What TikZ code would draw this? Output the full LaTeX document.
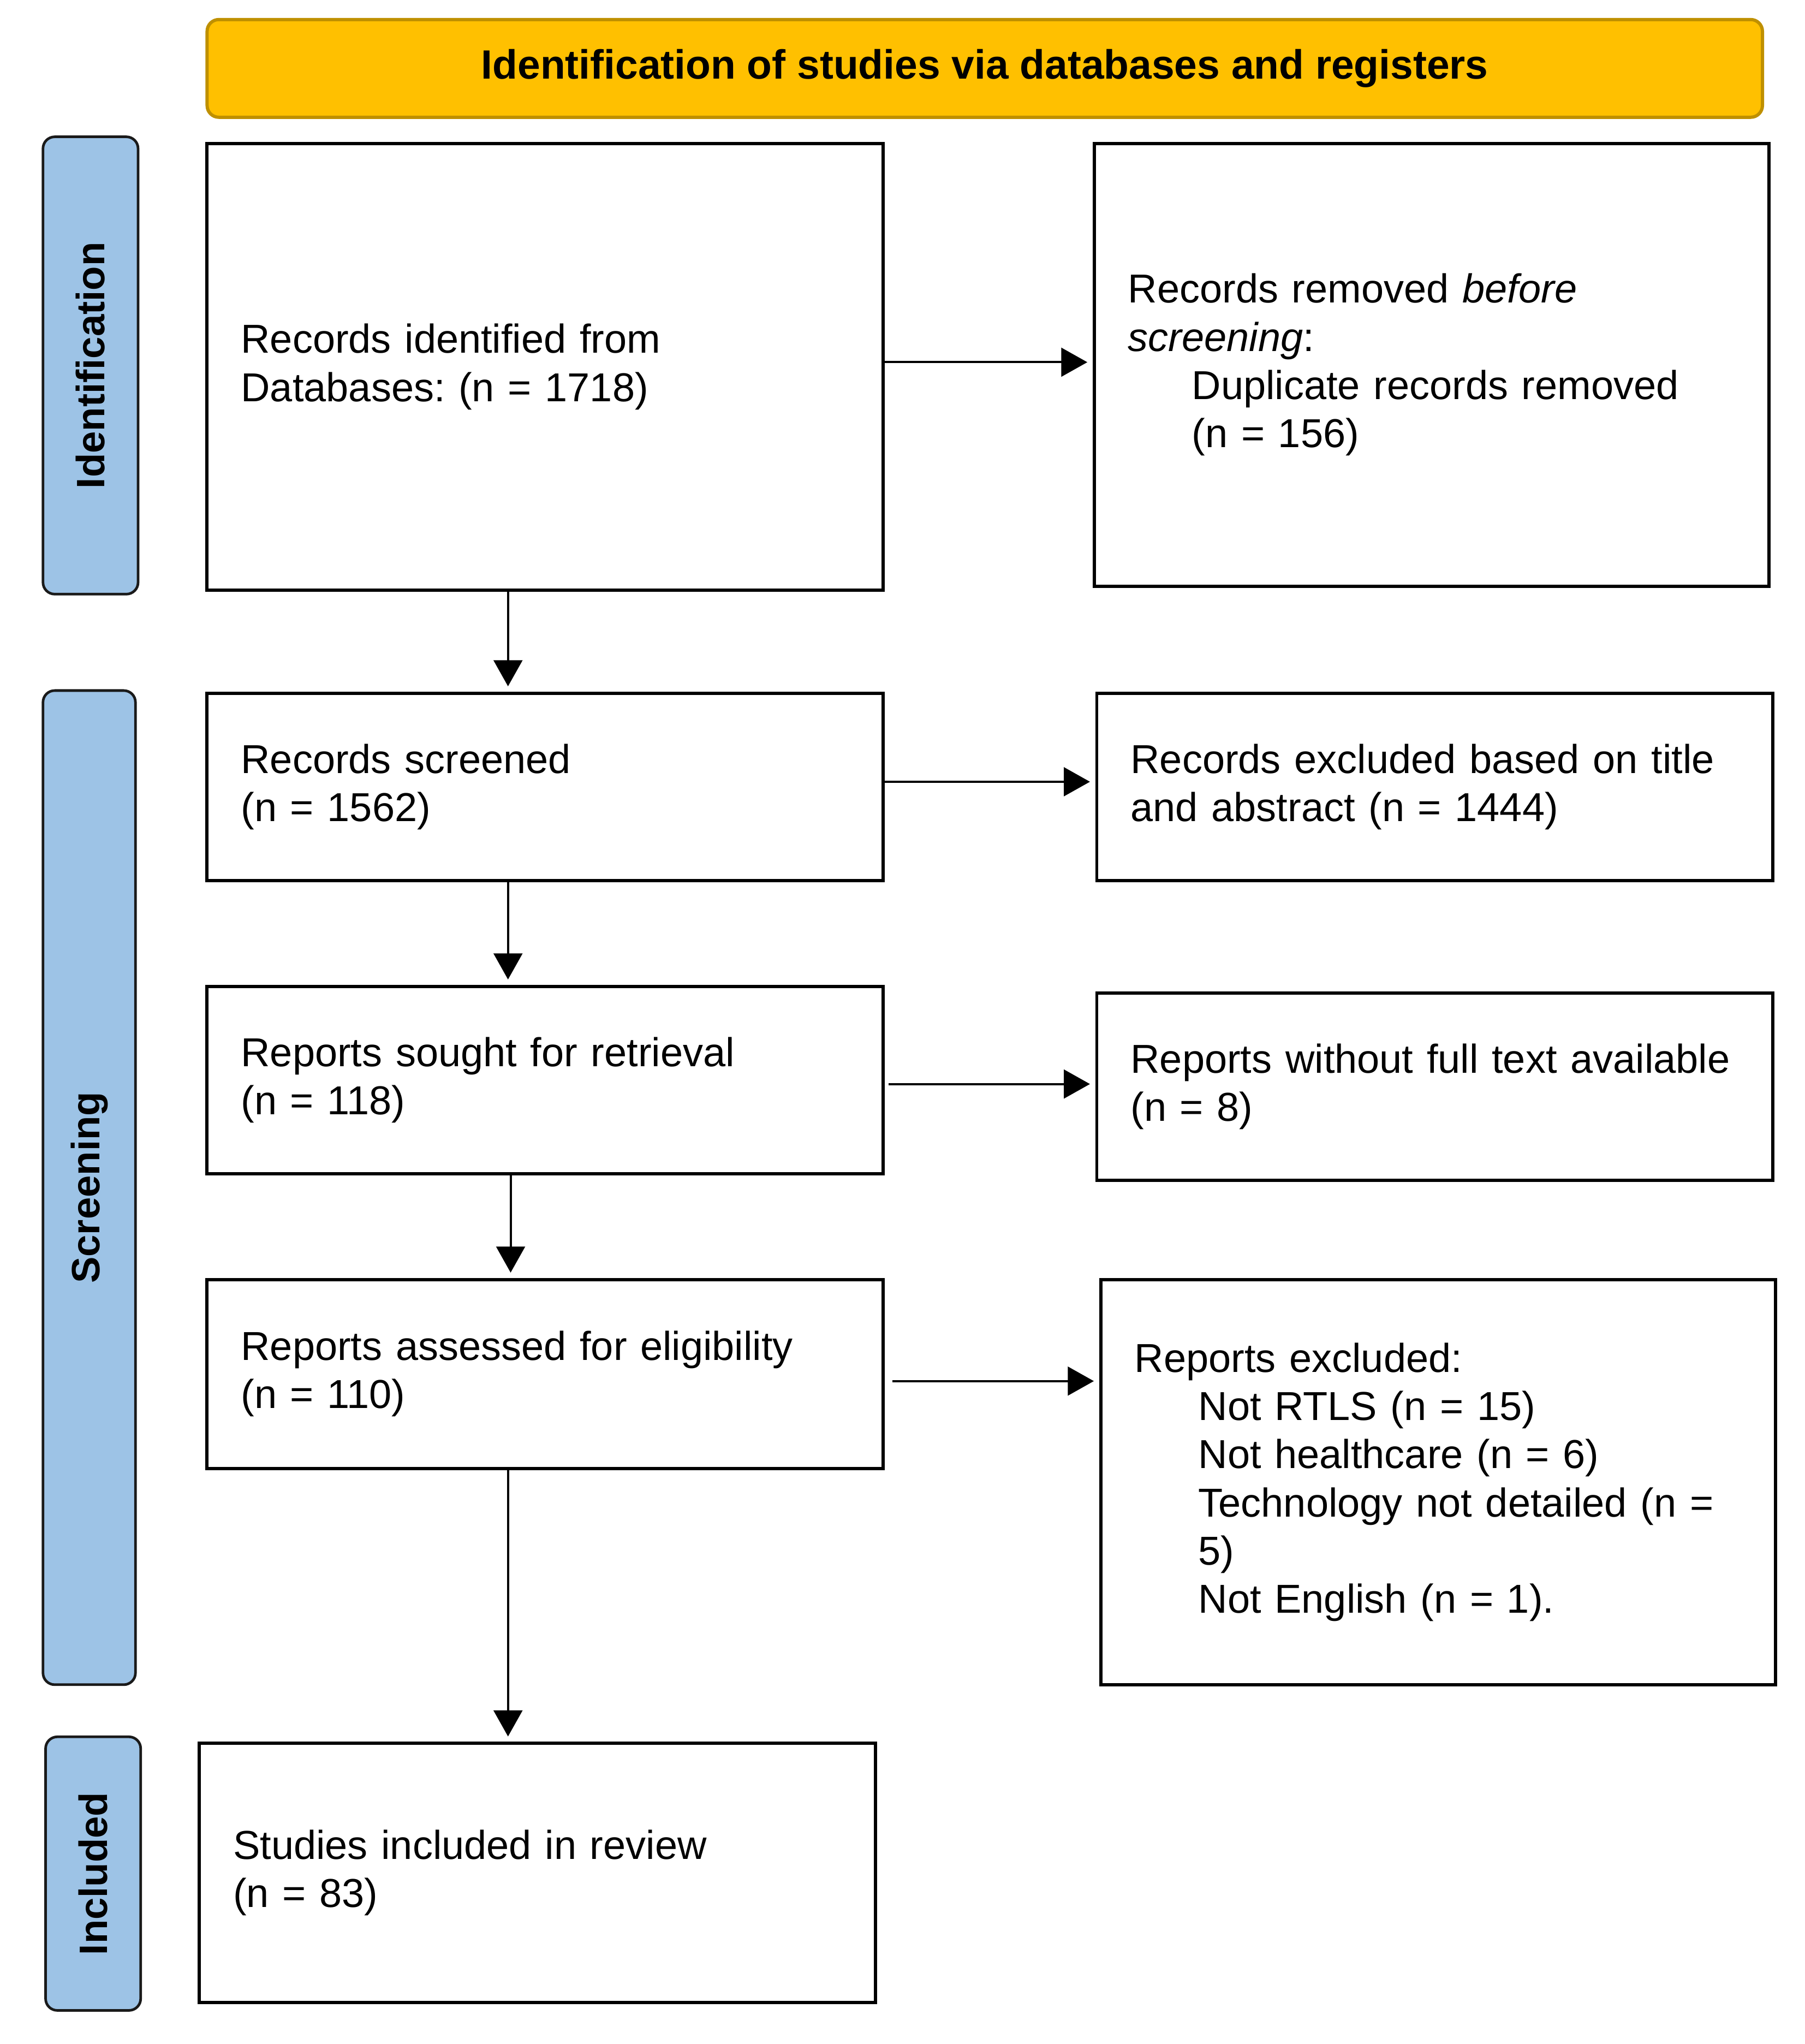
\documentclass[tikz,border=0pt]{standalone}
\usepackage{fontspec}
\setmainfont{Liberation Sans}
\usetikzlibrary{arrows.meta,calc}
\definecolor{hdrfill}{HTML}{FFC000}
\definecolor{hdrdraw}{HTML}{BF9000}
\definecolor{barfill}{HTML}{9DC3E6}
\definecolor{bardraw}{HTML}{1A1A1A}
\newcommand{\bodyfont}{\frenchspacing\fontsize{15.5pt}{18.5pt}\selectfont}
\newcommand{\ind}{\hspace*{24.5pt}}
\begin{document}
\begin{tikzpicture}[x=0.5pt,y=-0.5pt,
  flowbox/.style={draw=black, line width=1.25pt, inner xsep=13pt, inner ysep=0pt,
    align=left, font=\bodyfont, fill=white},
  sidebar/.style={draw=bardraw, fill=barfill, line width=1pt, rounded corners=4.5pt,
    rotate=90, inner sep=0pt, font=\fontsize{15.2pt}{18pt}\selectfont\bfseries},
  header/.style={draw=hdrdraw, fill=hdrfill, line width=1.25pt, rounded corners=4.5pt,
    inner sep=0pt, font=\fontsize{15.7pt}{18pt}\selectfont\bfseries},
  arr/.style={line width=0.85pt, -{Triangle[length=10pt,width=11pt]}, shorten >=2pt}
]
\useasboundingbox (0,0) rectangle (1385.3,1568.8);

% header
\node[header, minimum width=597pt, minimum height=37.5pt] (hdr) at (756,52.5)
  {Identification of studies via databases and registers};

% side bars
\node[sidebar, minimum width=175.5pt, minimum height=36.5pt] (idbar) at (69.5,280.5) {Identification};
\node[sidebar, minimum width=381.5pt, minimum height=35.5pt] (scrbar) at (68.5,911.5) {Screening};
\node[sidebar, minimum width=105pt, minimum height=36.5pt] (incbar) at (71.5,1438) {Included};

% left column
\node[flowbox, text width=233.5pt, minimum height=171.5pt] (ident) at (418.5,281.5)
  {Records identified from\\Databases: (n = 1718)};
\node[flowbox, text width=233.5pt, minimum height=72pt] (scr) at (418.5,604)
  {Records screened\\(n = 1562)};
\node[flowbox, text width=233.5pt, minimum height=72pt] (sought) at (418.5,829)
  {Reports sought for retrieval\\(n = 118)};
\node[flowbox, text width=233.5pt, minimum height=72.5pt] (assess) at (418.5,1054.5)
  {Reports assessed for eligibility\\(n = 110)};
\node[flowbox, text width=233.5pt, minimum height=99.5pt] (incl) at (412.5,1437.5)
  {Studies included in review\\(n = 83)};

% right column
\node[flowbox, text width=233pt, minimum height=170pt] (removed) at (1099,280)
  {Records removed \textit{before}\\\textit{screening}:\\\ind Duplicate records removed\\\ind (n = 156)};
\node[flowbox, text width=233.5pt, minimum height=72pt] (excl) at (1101.5,604)
  {Records excluded based on title\\and abstract (n = 1444)};
\node[flowbox, text width=233.5pt, minimum height=72pt] (nofull) at (1101.5,834)
  {Reports without full text available\\(n = 8)};
\node[flowbox, text width=233pt, minimum height=155.5pt] (repexcl) at (1104,1137.5)
  {Reports excluded:\\\ind Not RTLS (n = 15)\\\ind Not healthcare (n = 6)\\\ind Technology not detailed (n =\\\ind 5)\\\ind Not English (n = 1).};

% connector guides
\coordinate (vA) at (390,0);
\coordinate (vB) at (392,0);
\coordinate (h1) at (0,278);
\coordinate (h2) at (0,600);
\coordinate (h3) at (0,832);
\coordinate (h4) at (0,1060);

% vertical arrows
\draw[arr] (ident.south -| vA) -- (scr.north -| vA);
\draw[arr] (scr.south -| vA) -- (sought.north -| vA);
\draw[arr] (sought.south -| vB) -- (assess.north -| vB);
\draw[arr] (assess.south -| vA) -- (incl.north -| vA);

% horizontal arrows
\draw[arr] (ident.east |- h1) -- (removed.west |- h1);
\draw[arr] (scr.east |- h2) -- (excl.west |- h2);
\draw[arr, shorten <=1.5pt] (sought.east |- h3) -- (nofull.west |- h3);
\draw[arr, shorten <=3pt] (assess.east |- h4) -- (repexcl.west |- h4);
\end{tikzpicture}
\end{document}
